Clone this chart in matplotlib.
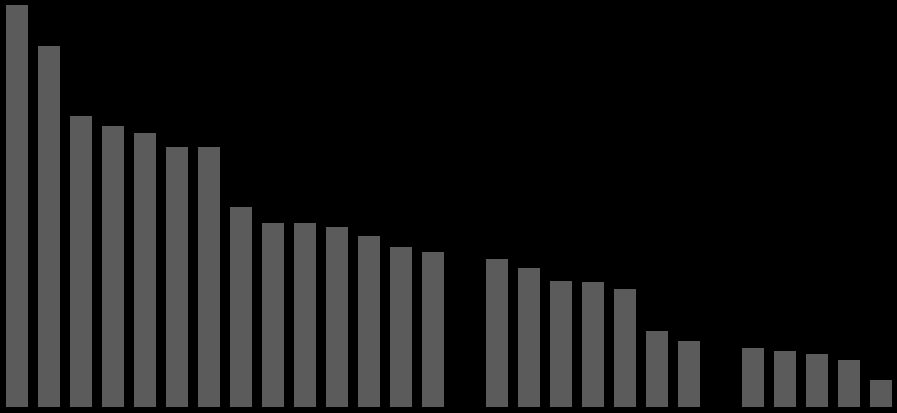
import matplotlib
matplotlib.use("Agg")
import matplotlib.pyplot as plt
import numpy as np

# bar heights (pixel units above the baseline)
values = [402, 361, 291, 281, 274, 260, 260, 200, 184, 184, 180, 171, 160, 155,
          0, 148, 139, 126, 125, 118, 76, 66,
          0, 59, 56, 53, 47, 27]
slots = np.arange(len(values))

BG = "#000000"
BAR = "#5b5b5b"

fig = plt.figure(figsize=(8.97, 4.14), dpi=100, facecolor=BG)
ax = fig.add_axes([0, 6 / 414, 1, 408 / 414], facecolor=BG)
ax.bar(slots, values, width=22 / 32, color=BAR, edgecolor="none")
ax.set_xlim(-17 / 32, (897 - 17) / 32)
ax.set_ylim(0, 408)
ax.axis("off")

fig.savefig("out.png", dpi=100, facecolor=BG)
